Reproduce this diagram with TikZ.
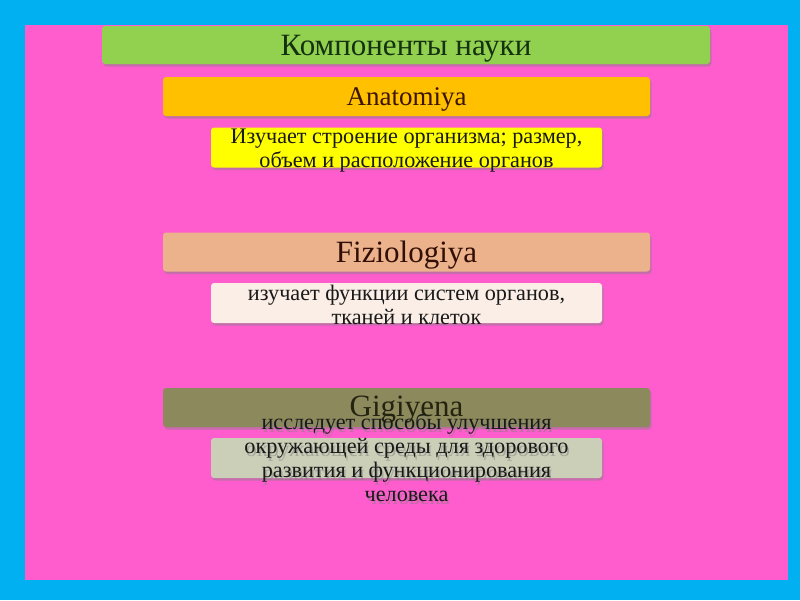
\documentclass[tikz,border=0pt]{standalone}
\usepackage{fontspec}
\setmainfont{Liberation Serif}
\usetikzlibrary{shadows}
\definecolor{bgblue}{HTML}{00B0F0}
\definecolor{bgpink}{HTML}{FF5CCD}
\definecolor{cgreen}{HTML}{92D050}
\definecolor{corange}{HTML}{FFC000}
\definecolor{cyellow}{HTML}{FFFF00}
\definecolor{cpeach}{HTML}{EBB28C}
\definecolor{ccream}{HTML}{FAEEE6}
\definecolor{colive}{HTML}{8C8A5C}
\definecolor{cgray}{HTML}{CBCFB8}
\tikzset{
  box/.style={rectangle, rounded corners=3pt, inner sep=0pt,
    drop shadow={opacity=0.45, shadow xshift=1.5pt, shadow yshift=-2.5pt}},
  headbox/.style={box, minimum width=487pt, minimum height=39pt},
  descbox/.style={box, minimum width=391pt, minimum height=40pt},
  txt/.style={inner sep=0pt, align=center},
  bigfont/.style={txt, font=\fontsize{31}{34}\selectfont},
  descfont/.style={txt, font=\fontsize{22.2}{24}\selectfont, text=black!90}
}
\begin{document}
\begin{tikzpicture}[x=1pt,y=-1pt]
\useasboundingbox (0,0) rectangle (800,600);
\fill[bgblue] (0,0) rectangle (800,600);
\fill[bgpink] (25,25) rectangle (788,580);

\node[box, fill=cgreen, minimum width=608pt, minimum height=38pt] (title) at (406,45) {};
\node[bigfont, text={rgb,255:red,20;green,50;blue,15}] (titlet) at ([yshift=-3.5pt]title.center) {Компоненты науки};

\node[headbox, fill=corange] (anat) at (406.5,96.5) {};
\node[txt, font=\fontsize{27}{30}\selectfont, text={rgb,255:red,60;green,20;blue,0}]
  (anatt) at ([yshift=-3pt]anat.center) {Anatomiya};
\node[descbox, fill=cyellow] (anatd) at (406.5,147.5) {};
\node[descfont] (anatdt) at ([yshift=-3pt]anatd.center)
  {Изучает строение организма; размер,\\объем и расположение органов};

\node[headbox, fill=cpeach] (fiz) at (406.5,252) {};
\node[bigfont, text={rgb,255:red,50;green,15;blue,5}] (fizt) at ([yshift=-3pt]fiz.center) {Fiziologiya};
\node[descbox, fill=ccream] (fizd) at (406.5,303) {};
\node[descfont] (fizdt) at ([yshift=-1.5pt]fizd.center)
  {изучает функции систем органов,\\тканей и клеток};

\node[headbox, fill=colive] (gig) at (406.5,407.5) {};
\node[bigfont, text={rgb,255:red,35;green,35;blue,15}] (gigt) at ([yshift=-2pt]gig.center) {Gigiyena};
\node[descbox, fill=cgray] (gigd) at (406.5,458) {};
\node[descfont, text=black!50, opacity=0.5] (gigds) at ([xshift=1.5pt,yshift=-2.5pt]gigd.center)
  {исследует способы улучшения\\окружающей среды для здорового\\развития и функционирования\\человека};
\node[descfont] (gigdt) at (gigd.center)
  {исследует способы улучшения\\окружающей среды для здорового\\развития и функционирования\\человека};
\end{tikzpicture}
\end{document}
